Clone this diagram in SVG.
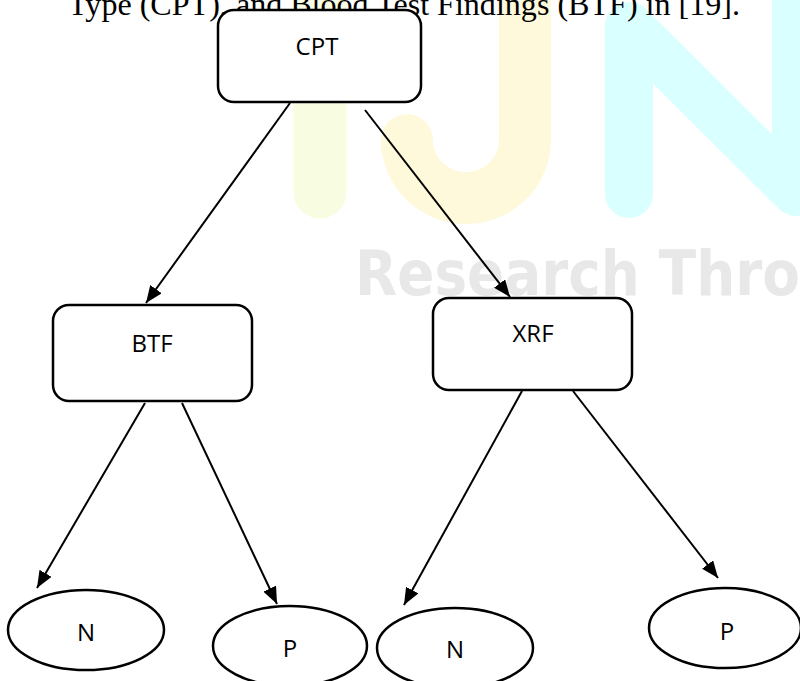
<svg xmlns="http://www.w3.org/2000/svg" width="800" height="681" viewBox="0 0 800 681">
  <style>
    .box { fill: #ffffff; stroke: #000000; stroke-width: 2.5; }
    .lbl { font-family: "Open Sans", "Noto Sans", sans-serif; font-size: 24px; fill: #000000; text-anchor: middle; }
    .edge { stroke: #000000; stroke-width: 2; fill: none; marker-end: url(#arrow); }
    .wm { fill: none; stroke-linecap: round; stroke-linejoin: round; }
  </style>
  <defs>
    <marker id="arrow" markerUnits="userSpaceOnUse" markerWidth="18" markerHeight="14" viewBox="0 0 18 14" refX="17" refY="7" orient="auto">
      <path d="M0,0 L17,7 L0,14 z" fill="#000000"/>
    </marker>
  </defs>
  <rect width="800" height="681" fill="#ffffff"/>

  <g id="watermark">
    <path class="wm" d="M320,-30 V192" stroke="#f8fde2" stroke-width="53"/>
    <path class="wm" d="M525,-30 V140 A59,58 0 0 1 407,140 V147" stroke="#fff9dc" stroke-width="52"/>
    <path class="wm" d="M629,194 V26 L796,192 V-30" stroke="#d9ffff" stroke-width="48"/>
    <text x="355" y="295" textLength="445" lengthAdjust="spacingAndGlyphs" font-family="DejaVu Sans, sans-serif" font-weight="bold" font-size="62" fill="#e8e8e8">Research Thro</text>
  </g>

  <text id="caption" x="68" y="15" textLength="672" lengthAdjust="spacingAndGlyphs" font-family="Liberation Serif, serif" font-size="32" fill="#000000">Type (CPT), and Blood Test Findings (BTF) in [19].</text>

  <g id="connectors">
    <line class="edge" x1="290" y1="103" x2="146" y2="303"/>
    <line class="edge" x1="365" y1="110" x2="510" y2="297"/>
    <line class="edge" x1="145" y1="403" x2="37" y2="588"/>
    <line class="edge" x1="182" y1="403" x2="277" y2="604"/>
    <line class="edge" x1="522" y1="391" x2="404" y2="605"/>
    <line class="edge" x1="573" y1="391" x2="718" y2="578"/>
  </g>

  <g id="node-cpt">
    <rect class="box" x="218" y="10" width="203" height="92" rx="16"/>
    <text class="lbl" x="317" y="55">CPT</text>
  </g>
  <g id="node-btf">
    <rect class="box" x="53" y="305" width="199" height="96" rx="16"/>
    <text class="lbl" x="152" y="352">BTF</text>
  </g>
  <g id="node-xrf">
    <rect class="box" x="433" y="298" width="199" height="92" rx="16"/>
    <text class="lbl" x="533" y="342">XRF</text>
  </g>
  <g id="node-n1">
    <ellipse class="box" cx="86" cy="630" rx="78" ry="40"/>
    <text class="lbl" x="86" y="641">N</text>
  </g>
  <g id="node-p1">
    <ellipse class="box" cx="290" cy="646" rx="77" ry="40"/>
    <text class="lbl" x="290" y="657">P</text>
  </g>
  <g id="node-n2">
    <ellipse class="box" cx="455" cy="648" rx="78" ry="40"/>
    <text class="lbl" x="455" y="658">N</text>
  </g>
  <g id="node-p2">
    <ellipse class="box" cx="725" cy="628" rx="76" ry="40"/>
    <text class="lbl" x="727" y="640">P</text>
  </g>
</svg>
